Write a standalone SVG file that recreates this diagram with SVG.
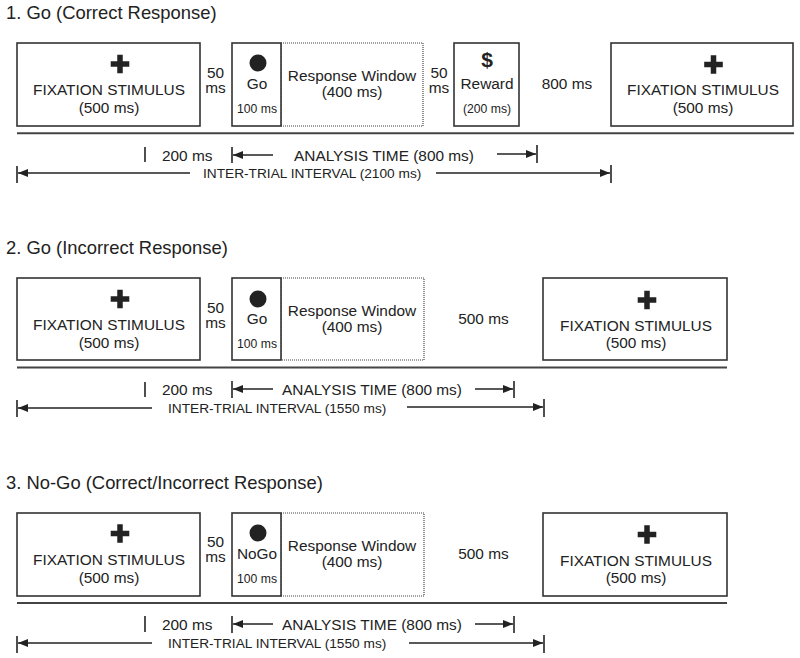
<svg xmlns="http://www.w3.org/2000/svg" width="800" height="658" viewBox="0 0 800 658">
<defs>
<style>
text{font-family:"Liberation Sans",Arial,sans-serif;fill:#222}
.t{font-size:18.4px}
.m{font-size:15.4px}
.c{text-anchor:middle}
.s{font-size:12.2px}
.i{font-size:13.7px}
.d{font-size:21px;font-weight:bold}
.box{fill:#fff;stroke:#333;stroke-width:1.6}
.win{fill:#fff;stroke:#444;stroke-width:1.2;stroke-dasharray:1 1}
.sep{stroke:#444;stroke-width:2}
.ar{stroke:#222;stroke-width:1.3;fill:none;marker-end:url(#ah)}
.tk{stroke:#222;stroke-width:1.6}
.dot{fill:#222}
</style>
<marker id="ah" markerUnits="userSpaceOnUse" markerWidth="11" markerHeight="9" refX="10" refY="4" orient="auto"><path d="M0,0 L10,4 L0,8 z" fill="#222"/></marker>
<path id="plus" d="M-9.3,-2.75 h18.6 v5.5 h-18.6 z M-2.75,-9.3 h5.5 v18.6 h-5.5 z" fill="#222"/>
</defs>
<rect width="800" height="658" fill="#fff"/>

<!-- Panel 1 -->
<g id="panel1">
<text id="p1-title" class="t" x="6" y="19">1. Go (Correct Response)</text>
<g id="p1-fix1"><rect class="box" x="17" y="43" width="183" height="83"/><use href="#plus" x="120" y="64"/><text class="m c" x="109" y="95">FIXATION STIMULUS</text><text class="m c" x="109" y="113">(500 ms)</text></g>
<g id="p1-gap1"><text class="m c" x="215.5" y="77.5">50</text><text class="m c" x="215.5" y="92.5">ms</text></g>
<g id="p1-window"><rect class="win" x="281" y="43" width="142" height="83"/><text class="m c" x="352" y="80.5">Response Window</text><text class="m c" x="352" y="97">(400 ms)</text></g>
<g id="p1-go"><rect class="box" x="232" y="43" width="49" height="83"/><circle class="dot" cx="258" cy="63" r="8.5"/><text class="m c" x="257" y="89">Go</text><text class="s c" x="257" y="113">100 ms</text></g>
<g id="p1-gap2"><text class="m c" x="439" y="77.5">50</text><text class="m c" x="439" y="92.5">ms</text></g>
<g id="p1-reward"><rect class="box" x="454" y="43" width="65" height="83"/><text class="d c" x="487" y="67">$</text><text class="m c" x="487" y="89">Reward</text><text class="s c" x="487" y="113">(200 ms)</text></g>
<g id="p1-delay"><text class="m c" x="567" y="89">800 ms</text></g>
<g id="p1-fix2"><rect class="box" x="611" y="43" width="182" height="83"/><use href="#plus" x="713.5" y="64.5"/><text class="m c" x="703" y="95">FIXATION STIMULUS</text><text class="m c" x="703" y="113">(500 ms)</text></g>
<g id="p1-timeline"><line class="sep" x1="17" y1="133.3" x2="794" y2="133.3"/>
<text class="m" x="162" y="160.5">200 ms</text>
<text class="m c" x="384" y="160.5">ANALYSIS TIME (800 ms)</text>
<text class="i" x="203" y="177.5">INTER-TRIAL INTERVAL (2100 ms)</text></g>
<g id="p1-connectors">
<line class="tk" x1="145" y1="147" x2="145" y2="162"/>
<line class="tk" x1="232" y1="147" x2="232" y2="163"/>
<line class="ar" x1="273" y1="155" x2="233" y2="155"/>
<line class="ar" x1="497" y1="154" x2="536" y2="154"/>
<line class="tk" x1="537" y1="145" x2="537" y2="163"/>
<line class="tk" x1="17" y1="166" x2="17" y2="183"/>
<line class="ar" x1="190" y1="173" x2="18" y2="173"/>
<line class="ar" x1="436" y1="173" x2="610" y2="173"/>
<line class="tk" x1="611" y1="165" x2="611" y2="183"/>
</g>
</g>

<!-- Panel 2 -->
<g id="panel2" transform="translate(0,235)">
<text id="p2-title" class="t" x="6" y="18.5">2. Go (Incorrect Response)</text>
<g id="p2-fix1"><rect class="box" x="17" y="43" width="183" height="82"/><use href="#plus" x="120" y="64"/><text class="m c" x="109" y="95">FIXATION STIMULUS</text><text class="m c" x="109" y="113">(500 ms)</text></g>
<g id="p2-gap1"><text class="m c" x="215.5" y="77.5">50</text><text class="m c" x="215.5" y="92.5">ms</text></g>
<g id="p2-window"><rect class="win" x="281" y="43" width="143" height="82"/><text class="m c" x="352" y="80.5">Response Window</text><text class="m c" x="352" y="96.5">(400 ms)</text></g>
<g id="p2-go"><rect class="box" x="232" y="43" width="49" height="82"/><circle class="dot" cx="258" cy="64" r="8.5"/><text class="m c" x="257" y="89">Go</text><text class="s c" x="257" y="112.5">100 ms</text></g>
<g id="p2-delay"><text class="m c" x="483.5" y="89">500 ms</text></g>
<g id="p2-fix2"><rect class="box" x="543" y="43" width="184" height="82"/><use href="#plus" x="647" y="65"/><text class="m c" x="636" y="96">FIXATION STIMULUS</text><text class="m c" x="636" y="113">(500 ms)</text></g>
<g id="p2-timeline"><line class="sep" x1="17" y1="132.5" x2="727" y2="132.5"/>
<text class="m" x="162" y="160">200 ms</text>
<text class="m c" x="372" y="160">ANALYSIS TIME (800 ms)</text>
<text class="i" x="168" y="177.5">INTER-TRIAL INTERVAL (1550 ms)</text></g>
<g id="p2-connectors">
<line class="tk" x1="145" y1="147" x2="145" y2="162"/>
<line class="tk" x1="232" y1="146" x2="232" y2="163"/>
<line class="ar" x1="273" y1="154" x2="233" y2="154"/>
<line class="ar" x1="475" y1="154" x2="513" y2="154"/>
<line class="tk" x1="514" y1="146" x2="514" y2="163"/>
<line class="tk" x1="17" y1="165" x2="17" y2="182"/>
<line class="ar" x1="152" y1="173" x2="18" y2="173"/>
<line class="ar" x1="407" y1="172" x2="543" y2="172"/>
<line class="tk" x1="544" y1="164" x2="544" y2="182"/>
</g>
</g>

<!-- Panel 3 -->
<g id="panel3" transform="translate(0,470)">
<text id="p3-title" class="t" x="6" y="18.5">3. No-Go (Correct/Incorrect Response)</text>
<g id="p3-fix1"><rect class="box" x="17" y="43" width="183" height="83"/><use href="#plus" x="120" y="63.5"/><text class="m c" x="109" y="95">FIXATION STIMULUS</text><text class="m c" x="109" y="113">(500 ms)</text></g>
<g id="p3-gap1"><text class="m c" x="215.5" y="77">50</text><text class="m c" x="215.5" y="92">ms</text></g>
<g id="p3-window"><rect class="win" x="281" y="43" width="143" height="83"/><text class="m c" x="352" y="80.5">Response Window</text><text class="m c" x="352" y="97">(400 ms)</text></g>
<g id="p3-nogo"><rect class="box" x="232" y="43" width="49" height="83"/><circle class="dot" cx="258" cy="63" r="8.5"/><text class="m c" x="257" y="88.5">NoGo</text><text class="s c" x="257" y="113">100 ms</text></g>
<g id="p3-delay"><text class="m c" x="483.5" y="88.5">500 ms</text></g>
<g id="p3-fix2"><rect class="box" x="543" y="43" width="184" height="83"/><use href="#plus" x="647" y="64.5"/><text class="m c" x="636" y="95.5">FIXATION STIMULUS</text><text class="m c" x="636" y="113">(500 ms)</text></g>
<g id="p3-timeline"><line class="sep" x1="17" y1="133" x2="727" y2="133"/>
<text class="m" x="162" y="160">200 ms</text>
<text class="m c" x="372" y="160">ANALYSIS TIME (800 ms)</text>
<text class="i" x="168" y="177.5">INTER-TRIAL INTERVAL (1550 ms)</text></g>
<g id="p3-connectors">
<line class="tk" x1="145" y1="146" x2="145" y2="162"/>
<line class="tk" x1="232" y1="146" x2="232" y2="163"/>
<line class="ar" x1="273" y1="154" x2="233" y2="154"/>
<line class="ar" x1="475" y1="154" x2="513" y2="154"/>
<line class="tk" x1="514" y1="146" x2="514" y2="163"/>
<line class="tk" x1="17" y1="166" x2="17" y2="183"/>
<line class="ar" x1="152" y1="173" x2="18" y2="173"/>
<line class="ar" x1="409" y1="173" x2="543" y2="173"/>
<line class="tk" x1="544" y1="165" x2="544" y2="183"/>
</g>
</g>
</svg>
